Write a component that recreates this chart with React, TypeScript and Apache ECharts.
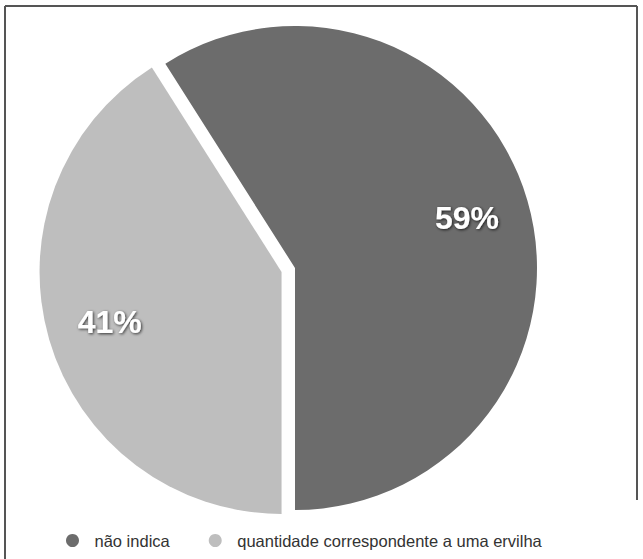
import React, { useEffect, useRef } from "react";
import * as echarts from "echarts";

const categories = ["não indica", "quantidade correspondente a uma ervilha"];
const values = [59, 41];
const colors = ["#6c6c6c", "#bebebe"];
const explodedIndex = 1;

export default function App() {
  const ref = useRef<HTMLDivElement>(null);
  useEffect(() => {
    if (!ref.current) return;
    const chart = echarts.init(ref.current, null, { renderer: "svg" });
    const pieData = categories.map((name, i) => ({
      name,
      value: values[i],
      selected: i === explodedIndex,
      itemStyle: { color: colors[i] },
    }));
    const labelData = categories.map((name, i) => ({
      name,
      value: values[i],
      selected: i === explodedIndex,
      itemStyle: { color: "rgba(0,0,0,0)" },
    }));
    const common = {
      type: "pie" as const,
      center: [295, 268],
      startAngle: 122.4,
      clockwise: true,
      selectedMode: "single" as const,
      selectedOffset: 14,
      silent: true,
      emphasis: { disabled: true },
      avoidLabelOverlap: false,
    };
    chart.setOption({
      animation: false,
      backgroundColor: "#ffffff",
      textStyle: { fontFamily: "Liberation Sans" },
      legend: {
        left: 61,
        top: 527,
        orient: "horizontal",
        icon: "circle",
        itemWidth: 34,
        itemHeight: 13,
        itemGap: 39,
        selectedMode: false,
        data: categories.map((name, i) => ({ name, itemStyle: { color: colors[i] } })),
        textStyle: { fontSize: 16.5, color: "#333333", fontFamily: "Liberation Sans" },
      },
      graphic: [
        { type: "line", shape: { x1: 5, y1: 6, x2: 637, y2: 6 }, style: { stroke: "#555555", lineWidth: 2 } },
        { type: "line", shape: { x1: 5, y1: 6, x2: 5, y2: 559 }, style: { stroke: "#555555", lineWidth: 2 } },
        { type: "line", shape: { x1: 637, y1: 6, x2: 637, y2: 500 }, style: { stroke: "#555555", lineWidth: 2 } },
      ],
      series: [
        {
          ...common,
          name: "main",
          radius: [0, 242],
          label: { show: false },
          labelLine: { show: false },
          itemStyle: { borderWidth: 0 },
          data: pieData,
        },
        {
          ...common,
          name: "labels",
          radius: [110, 242],
          z: 3,
          itemStyle: { borderWidth: 0 },
          labelLine: { show: false },
          label: {
            show: true,
            position: "inside",
            formatter: (p: any) => `${p.value}%`,
            color: "#ffffff",
            fontSize: 32,
            fontWeight: "bold",
            fontFamily: "Liberation Sans",
            textShadowColor: "rgba(0,0,0,0.75)",
            textShadowBlur: 3,
            textShadowOffsetX: 1,
            textShadowOffsetY: 1,
          },
          data: labelData,
        },
      ],
    });
    return () => chart.dispose();
  }, []);
  return (
    <div
      ref={ref}
      style={{ position: "fixed", left: 0, top: 0, width: 643, height: 559 }}
    />
  );
}
